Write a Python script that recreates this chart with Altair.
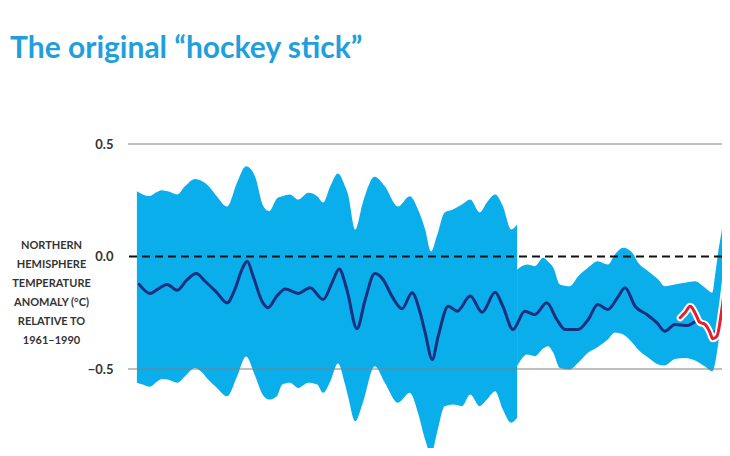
import altair as alt
import pandas as pd

# ---------------- text ----------------
TITLE = "The original “hockey stick”"
Y_LABEL = ["NORTHERN", "HEMISPHERE", "TEMPERATURE", "ANOMALY (°C)", "RELATIVE TO", "1961–1990"]
Y_TICKS = [0.5, 0.0, -0.5]

# ---------------- data ----------------
# uncertainty band, early period (wide)
BAND1_YEAR = [1000, 1010, 1022, 1032, 1042, 1052, 1068, 1081, 1098, 1110, 1120, 1135, 1152,
              1169, 1184, 1199, 1213, 1223, 1236, 1245, 1258, 1272, 1289, 1304, 1314, 1326,
              1339, 1351, 1356, 1368, 1381, 1401, 1418, 1440, 1460, 1474, 1486, 1496, 1506,
              1519, 1533, 1548, 1562, 1578, 1590, 1604, 1617, 1631, 1641]
BAND1_UPPER = [0.290, 0.276, 0.269, 0.284, 0.295, 0.290, 0.276, 0.312, 0.345, 0.335, 0.316, 0.267, 0.222,
               0.329, 0.401, 0.357, 0.224, 0.201, 0.258, 0.268, 0.276, 0.253, 0.283, 0.268, 0.240, 0.312,
               0.369, 0.312, 0.276, 0.120, 0.240, 0.354, 0.312, 0.222, 0.268, 0.209, 0.120, 0.022, 0.093,
               0.196, 0.209, 0.231, 0.253, 0.196, 0.240, 0.276, 0.224, 0.120, 0.142]
BAND1_LOWER = [-0.561, -0.569, -0.579, -0.560, -0.544, -0.547, -0.561, -0.532, -0.495, -0.516, -0.547, -0.584, -0.621,
               -0.532, -0.444, -0.529, -0.618, -0.636, -0.621, -0.569, -0.561, -0.584, -0.561, -0.569, -0.606, -0.556,
               -0.476, -0.569, -0.621, -0.732, -0.650, -0.488, -0.561, -0.650, -0.606, -0.695, -0.813, -0.880, -0.782,
               -0.665, -0.658, -0.665, -0.613, -0.665, -0.636, -0.599, -0.680, -0.739, -0.717]

# uncertainty band, later period (narrow)
BAND2_YEAR = [1641, 1658, 1671, 1685, 1693, 1702, 1713, 1730, 1744, 1761, 1777, 1794, 1806,
              1820, 1835, 1845, 1862, 1879, 1890, 1907, 1924, 1941, 1958, 1970, 1975, 1980,
              1985, 1990, 1995, 2000]
BAND2_UPPER = [-0.058, -0.036, -0.043, -0.006, -0.022, -0.049, -0.124, -0.132, -0.088, -0.049, -0.021, -0.036, 0.009,
               0.039, 0.018, -0.027, -0.065, -0.102, -0.132, -0.124, -0.117, -0.110, -0.139, -0.161, -0.080, 0.018,
               0.098, 0.173, 0.227, 0.262]
BAND2_LOWER = [-0.488, -0.436, -0.443, -0.409, -0.399, -0.428, -0.495, -0.502, -0.472, -0.427, -0.402, -0.369, -0.338,
               -0.347, -0.382, -0.413, -0.449, -0.480, -0.484, -0.456, -0.451, -0.462, -0.489, -0.510, -0.472, -0.391,
               -0.289, -0.191, -0.080, -0.013]

# reconstruction (dark blue line)
RECON_YEAR = [1004, 1022, 1036, 1051, 1068, 1084, 1100, 1115, 1135, 1152, 1165, 1177, 1186,
              1196, 1211, 1221, 1236, 1250, 1272, 1292, 1314, 1329, 1341, 1354, 1371, 1385,
              1401, 1415, 1430, 1447, 1464, 1477, 1486, 1498, 1508, 1525, 1540, 1562, 1582,
              1604, 1617, 1634, 1654, 1671, 1691, 1708, 1722, 1744, 1761, 1777, 1794, 1810,
              1823, 1840, 1860, 1877, 1890, 1907, 1928, 1944, 1958, 1970, 1978, 1987, 1995, 2000]
RECON_VALUE = [-0.124, -0.164, -0.144, -0.124, -0.150, -0.105, -0.076, -0.110, -0.161, -0.206, -0.147, -0.058, -0.021,
               -0.088, -0.199, -0.228, -0.176, -0.144, -0.164, -0.139, -0.191, -0.117, -0.055, -0.147, -0.321, -0.191,
               -0.076, -0.102, -0.176, -0.232, -0.161, -0.244, -0.338, -0.458, -0.354, -0.221, -0.243, -0.176, -0.248,
               -0.159, -0.221, -0.324, -0.243, -0.258, -0.206, -0.280, -0.324, -0.324, -0.280, -0.213, -0.236, -0.184,
               -0.139, -0.221, -0.258, -0.295, -0.332, -0.302, -0.307, -0.288, -0.310, -0.342, -0.324, -0.176, -0.028, 0.031]

# instrumental record (red line)
INSTR_YEAR = [1916, 1924, 1933, 1941, 1949, 1958, 1966, 1971, 1978, 1987, 1995, 2000]
INSTR_VALUE = [-0.272, -0.250, -0.221, -0.250, -0.292, -0.302, -0.336, -0.366, -0.354, -0.221, -0.058, 0.001]

# ---------------- styling / layout ----------------
BAND_COLOR = "#0aaeea"
NAVY = "#1b2f80"
RED = "#e3202b"
TITLE_COLOR = "#1f9fdc"
TEXT_COLOR = "#333333"
FONT = "Lato"

PAD_LEFT, PAD_TOP = 120, 136
PLOT_W, PLOT_H = 594, 304
YEARS_PER_PX = 1015 / 602
UNIT_PX = 225
X_DOMAIN = [985, 985 + PLOT_W * YEARS_PER_PX]
Y_DOMAIN = [0.5 - PLOT_H / UNIT_PX, 0.5]

band_df = pd.concat([
    pd.DataFrame({"year": BAND1_YEAR, "upper": BAND1_UPPER, "lower": BAND1_LOWER, "segment": "early"}),
    pd.DataFrame({"year": BAND2_YEAR, "upper": BAND2_UPPER, "lower": BAND2_LOWER, "segment": "late"}),
], ignore_index=True)
recon_df = pd.DataFrame({"year": RECON_YEAR, "value": RECON_VALUE})
instr_df = pd.DataFrame({"year": INSTR_YEAR, "value": INSTR_VALUE})
grid_df = pd.DataFrame({"value": Y_TICKS})

xs = alt.Scale(domain=X_DOMAIN, nice=False, zero=False)
ys = alt.Scale(domain=Y_DOMAIN, nice=False, zero=False)
X = alt.X("year:Q", scale=xs, axis=None)

Y_AXIS = alt.Axis(
    values=Y_TICKS, format=".1f", grid=False, ticks=False, domain=False,
    labelPadding=15, labelFont=FONT, labelFontSize=13, labelFontWeight="bold",
    labelColor=TEXT_COLOR,
    title=Y_LABEL, titleAngle=0, titleAlign="center", titleBaseline="alphabetic",
    titleX=-77, titleY=104, titleFont=FONT, titleFontSize=11,
    titleFontWeight="bold", titleColor=TEXT_COLOR, titleLineHeight=19,
)


def yenc(field):
    return alt.Y(field, scale=ys, stack=None, axis=Y_AXIS)


band = alt.Chart(band_df).mark_area(
    color=BAND_COLOR, interpolate="monotone", clip=True, opacity=1
).encode(x=X, y=yenc("lower:Q"), y2="upper:Q", detail="segment:N")

grid_solid = alt.Chart(grid_df).transform_filter("datum.value != 0").mark_rule(
    color="#808080", strokeWidth=1
).encode(y=yenc("value:Q"))

grid_zero = alt.Chart(grid_df).transform_filter("datum.value == 0").mark_rule(
    color="#111111", strokeWidth=2, strokeDash=[8, 5]
).encode(y=yenc("value:Q"))

recon = alt.Chart(recon_df).mark_line(
    color=NAVY, strokeWidth=3, interpolate="monotone", clip=True, strokeCap="round"
).encode(x=X, y=yenc("value:Q"))

instr_halo = alt.Chart(instr_df).mark_line(
    color="white", strokeWidth=7, interpolate="monotone", clip=True, strokeCap="round"
).encode(x=X, y=yenc("value:Q"))

instr = alt.Chart(instr_df).mark_line(
    color=RED, strokeWidth=3, interpolate="monotone", clip=True, strokeCap="round"
).encode(x=X, y=yenc("value:Q"))

chart = alt.layer(band, grid_solid, grid_zero, recon, instr_halo, instr).properties(
    width=PLOT_W,
    height=PLOT_H,
    autosize=alt.AutoSizeParams(type="none"),
    padding={"left": PAD_LEFT, "top": PAD_TOP, "right": 0, "bottom": 0},
    title=alt.TitleParams(
        text=TITLE, anchor="start", frame="group", orient="top",
        dx=-118, offset=50, baseline="alphabetic",
        font=FONT, fontSize=30, fontWeight="bold", color=TITLE_COLOR,
    ),
    background="white",
).configure_view(stroke=None)

chart.save("out.html", embed_options={"renderer": "svg", "actions": False})
